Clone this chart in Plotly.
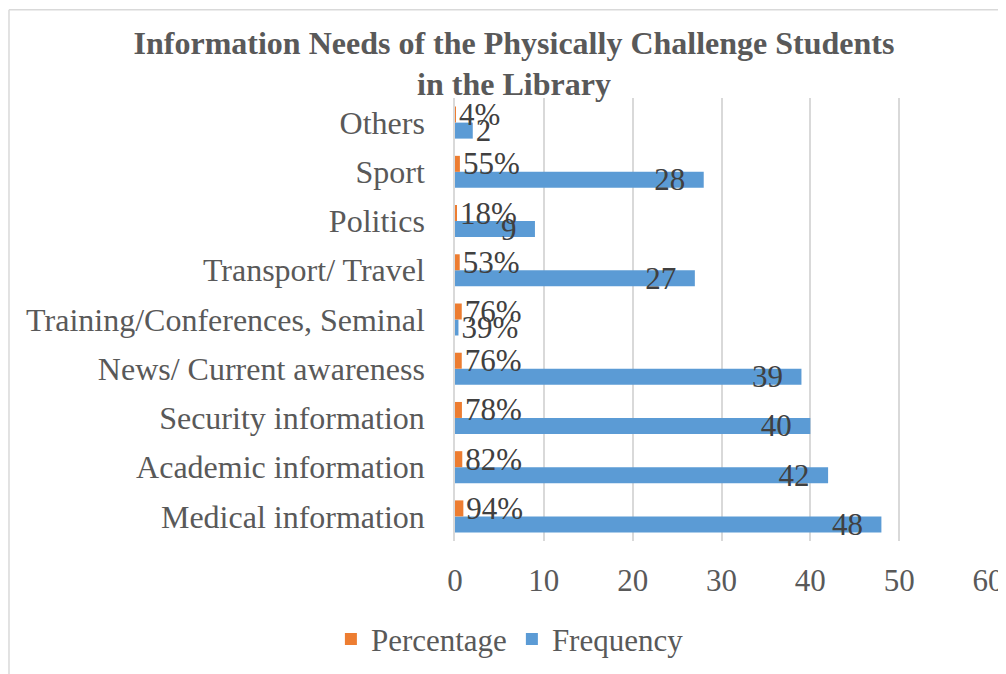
import plotly.graph_objects as go

categories = ["Medical information", "Academic information", "Security information",
              "News/ Current awareness", "Training/Conferences, Seminal",
              "Transport/ Travel", "Politics", "Sport", "Others"]
frequency = [48, 42, 40, 39, 0.39, 27, 9, 28, 2]
frequency_labels = ["48", "42", "40", "39", "39%", "27", "9", "28", "2"]
percentage = [0.94, 0.82, 0.78, 0.76, 0.76, 0.53, 0.18, 0.55, 0.04]
percentage_labels = ["94%", "82%", "78%", "76%", "76%", "53%", "18%", "55%", "4%"]
x_ticks = [0, 10, 20, 30, 40, 50, 60]

FONT = "Liberation Serif"
TXT = "#404040"
AX = "#595959"
FS = 31

freq_pos = ["outside" if v < 3 else "inside" for v in frequency]
# inside labels get an invisible trailing en-space to mimic Excel's inner padding
freq_text = [t + "\u2002" if p == "inside" else t for t, p in zip(frequency_labels, freq_pos)]

fig = go.Figure()
fig.add_trace(go.Bar(
    y=categories, x=frequency, orientation="h", name="Frequency",
    marker=dict(color="#5B9BD5", line=dict(width=0)),
    text=freq_text, textposition=freq_pos, insidetextanchor="end",
    textangle=0, constraintext="none", cliponaxis=False,
    textfont=dict(family=FONT, size=FS, color=TXT),
    insidetextfont=dict(family=FONT, size=FS, color=TXT),
    outsidetextfont=dict(family=FONT, size=FS, color=TXT),
))
fig.add_trace(go.Bar(
    y=categories, x=percentage, orientation="h", name="Percentage",
    marker=dict(color="#ED7D31", line=dict(width=0)),
    text=percentage_labels, textposition="outside", textangle=0,
    constraintext="none", cliponaxis=False,
    textfont=dict(family=FONT, size=FS, color=TXT),
))

fig.update_layout(
    width=998, height=666,
    paper_bgcolor="white", plot_bgcolor="white",
    margin=dict(l=447, r=18, t=90, b=133, autoexpand=False),
    barmode="group", bargap=0.35, bargroupgap=0,
    font=dict(family=FONT, size=FS, color=TXT),
    title=dict(text="<b>Information Needs of the Physically Challenge Students<br>in the Library</b>",
               x=0.507, xanchor="center", y=0.9315, yanchor="top",
               font=dict(family=FONT, size=32, color=AX)),
    legend=dict(orientation="h", x=0.103, xanchor="center", y=-0.161, yanchor="top",
                traceorder="reversed", font=dict(family=FONT, size=FS, color=AX),
                itemwidth=30),
    xaxis=dict(range=[0, 60], tickvals=x_ticks, showgrid=True, gridcolor="#D9D9D9", gridwidth=1.5,
               zeroline=False, showline=False, ticks="", ticklabelstandoff=18, automargin=False,
               tickfont=dict(family=FONT, size=FS, color=AX)),
    yaxis=dict(categoryorder="array", categoryarray=categories, showgrid=False,
               showline=True, linecolor="#D9D9D9", linewidth=1.5, ticks="", automargin=False,
               ticklabelstandoff=22, tickfont=dict(family=FONT, size=32, color=AX)),
    shapes=[
        dict(type="line", xref="paper", yref="paper", x0=-0.8368, x1=1.05, y0=1.199, y1=1.199,
             line=dict(color="#D9D9D9", width=1.5)),
        dict(type="line", xref="paper", yref="paper", x0=-0.8368, x1=-0.8368, y0=1.199, y1=-0.3,
             line=dict(color="#D9D9D9", width=1.5)),
    ],
)

fig.write_html("out.html")
